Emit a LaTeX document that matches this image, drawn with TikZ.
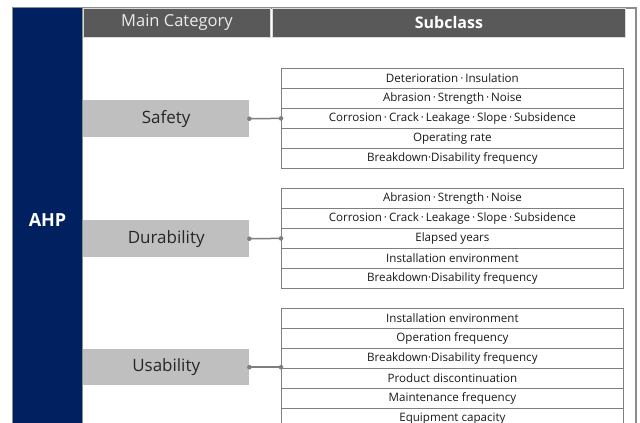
\documentclass[tikz,border=0pt]{standalone}
\usepackage{fontspec}
\setmainfont{Open Sans}
\definecolor{navy}{HTML}{002060}
\definecolor{hdrgray}{HTML}{595959}
\definecolor{catgray}{HTML}{BFBFBF}
\definecolor{linegray}{HTML}{7F7F7F}
\definecolor{framegray}{HTML}{8C8C8C}
\newcommand{\md}{\,·\,}
\begin{document}
\begin{tikzpicture}[x=1pt,y=-1pt,
  frame/.style={draw=framegray, line width=1.2pt},
  hdr/.style={fill=hdrgray, draw=white!85!black, line width=0.8pt, anchor=north west,
    inner sep=0pt, minimum height=29pt},
  cat/.style={fill=catgray, anchor=north west, inner sep=0pt, minimum width=166pt,
    font=\fontsize{17}{20}\selectfont, text=black!85},
  row/.style={draw=linegray, line width=0.8pt, minimum width=342pt, minimum height=20pt,
    inner sep=0pt, anchor=north west, font=\fontsize{11.6}{13}\selectfont, text=black!90},
  link/.style={draw=linegray, line width=1.5pt},
  dot/.style={fill=linegray}
]
\useasboundingbox (0,0) rectangle (640,423);
\clip (0,0) rectangle (640,423);

% outer frame and AHP bar
\draw[frame] (13,8) rectangle (636,450);
\fill[navy] (13,8) rectangle (82,450);
\draw[draw=framegray, line width=1pt] (82,8) -- (82,450);
\node[text=white, font=\bfseries\fontsize{18}{20}\selectfont] (ahp) at (47.5,220) {AHP};

% header cells
\node[hdr, minimum width=187pt, text=white!92!black, font=\fontsize{16.5}{18}\selectfont]
  (hmain) at (83,8) {Main Category};
\node[hdr, minimum width=353pt, text=white, font=\bfseries\fontsize{16}{18}\selectfont]
  (hsub) at (272,8) {Subclass};

% main categories
\node[cat, minimum height=37pt] (safety) at (83,100) {Safety};
\node[cat, minimum height=37pt] (durability) at (83,220) {Durability};
\node[cat, minimum height=36pt] (usability) at (83,349) {Usability};

% subclasses of Safety
\node[row] (s1) at (281,68)  {Deterioration\md Insulation};
\node[row] (s2) at (281,88)  {Abrasion\md Strength\md Noise};
\node[row] (s3) at (281,108) {Corrosion\md Crack\md Leakage\md Slope\md Subsidence};
\node[row] (s4) at (281,128) {Operating rate};
\node[row] (s5) at (281,148) {Breakdown·Disability frequency};

% subclasses of Durability
\node[row] (d1) at (281,188) {Abrasion\md Strength\md Noise};
\node[row] (d2) at (281,208) {Corrosion\md Crack\md Leakage\md Slope\md Subsidence};
\node[row] (d3) at (281,228) {Elapsed years};
\node[row] (d4) at (281,248) {Installation environment};
\node[row] (d5) at (281,268) {Breakdown·Disability frequency};

% subclasses of Usability
\node[row] (u1) at (281,308) {Installation environment};
\node[row] (u2) at (281,328) {Operation frequency};
\node[row] (u3) at (281,348) {Breakdown·Disability frequency};
\node[row] (u4) at (281,368) {Product discontinuation};
\node[row] (u5) at (281,388) {Maintenance frequency};
\node[row] (u6) at (281,408) {Equipment capacity};

% connectors
\draw[link] (safety.east) -- (s3.west);
\fill[dot] (safety.east) circle (2.3pt) (s3.west) circle (2.3pt);
\draw[link] (durability.east) -- (d3.west);
\fill[dot] (durability.east) circle (2.3pt) (d3.west) circle (2.3pt);
\coordinate (ujoin) at (u4.north west);
\draw[link] (usability.east) -- (usability.east -| ujoin);
\fill[dot] (usability.east) circle (2.3pt) (usability.east -| ujoin) circle (2.3pt);
\end{tikzpicture}
\end{document}
